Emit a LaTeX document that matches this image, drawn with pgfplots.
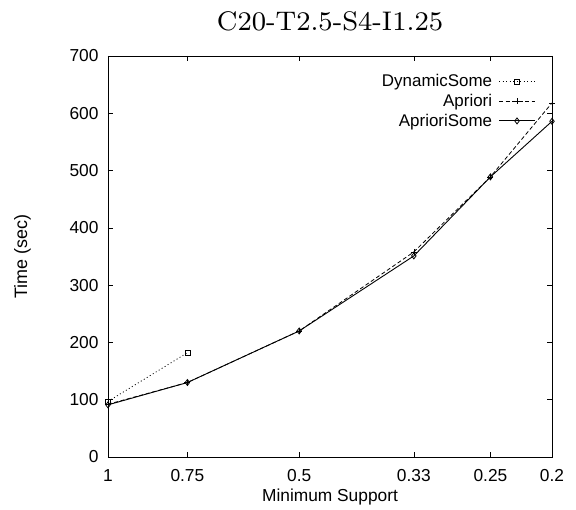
\documentclass[border=0pt]{standalone}
\usepackage{fontspec}
\usepackage{pgfplots}
\pgfplotsset{compat=1.18}
\newfontfamily\arial{Liberation Sans}
\newfontfamily\lmeight[Extension=.otf]{lmroman8-regular}
\begin{document}
\begin{tikzpicture}
\begin{axis}[
  name=ax,
  scale only axis,
  width=444bp, height=401bp,
  xmode=log, x dir=reverse,
  xmin=0.2, xmax=1, ymin=0, ymax=700,
  xtick={1,0.75,0.5,0.33,0.25,0.2},
  xticklabels={1,0.75,0.5,0.33,0.25,0.2},
  xminorticks=false,
  ytick={0,100,...,700},
  tick align=inside, tick pos=both,
  major tick length=5bp,
  axis line style={line width=0.9bp},
  every tick/.style={black, line width=0.6bp},
  /pgf/number format/assume math mode=true,
  tick label style={font=\arial\fontsize{17.4}{19}\selectfont},
  xticklabel style={yshift=-9bp},
  yticklabel style={xshift=-6bp},
  label style={font=\arial\fontsize{17.4}{19}\selectfont},
  xlabel={Minimum Support},
  xlabel style={yshift=0bp},
  ylabel={Time (sec)},
  ylabel style={yshift=32bp, font=\arial\fontsize{18}{20}\selectfont},
  title={C20-T2.5-S4-I1.25},
  title style={yshift=15bp, font=\lmeight\fontsize{27}{30}\selectfont},
  legend plot pos=right,
  legend cell align=right,
  legend style={draw=none, fill=none, at={(rel axis cs:0.97,0.963)}, anchor=north east,
    font=\arial\fontsize{17}{19}\selectfont, row sep=3bp, column sep=5bp,
    nodes={inner sep=1.5bp}},
  legend image code/.code={%
    \draw[mark repeat=2,mark phase=2,#1] plot coordinates {(0bp,0bp) (18bp,0bp) (36bp,0bp)};},
]
\addplot[black, line width=0.8bp, dash pattern=on 1bp off 2.5bp, mark=square, mark size=2.6bp, mark options={solid, line width=0.6bp}]
  coordinates {(1,97) (0.75,182)};
\addlegendentry{DynamicSome}
\addplot[black, line width=0.8bp, dash pattern=on 4bp off 2.5bp, mark=+, mark size=3bp, mark options={solid, line width=0.6bp}]
  coordinates {(1,92) (0.75,130) (0.5,220) (0.33,358) (0.25,489) (0.2,618)};
\addlegendentry{Apriori}
\addplot[black, line width=0.9bp, mark=diamond, mark size=3bp, mark options={solid, line width=0.8bp}]
  coordinates {(1,91) (0.75,130) (0.5,220) (0.33,351) (0.25,489) (0.2,586)};
\addlegendentry{AprioriSome}
\end{axis}
\path ([shift={(-108bp,-53bp)}]ax.south west) rectangle ([shift={(24bp,56bp)}]ax.north east);
\end{tikzpicture}
\end{document}
